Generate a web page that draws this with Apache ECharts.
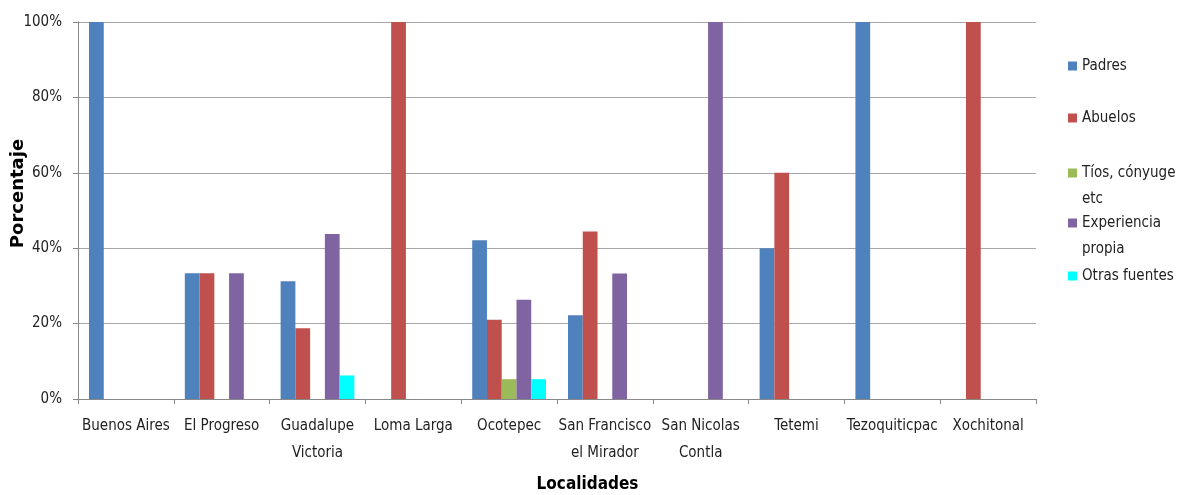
<!DOCTYPE html>
<html><head><meta charset="utf-8">
<script src="https://cdn.jsdelivr.net/npm/echarts@6/dist/echarts.min.js"></script>
<style>html,body{margin:0;padding:0;background:#fff}#c{width:1180px;height:495px}</style>
</head><body><div id="c"></div>
<script>
const categories = ['Buenos Aires','El Progreso','Guadalupe\nVictoria','Loma Larga','Ocotepec','San Francisco\nel Mirador','San Nicolas\nContla','Tetemi','Tezoquiticpac','Xochitonal'];
const seriesNames = ['Padres','Abuelos','Tíos, cónyuge etc','Experiencia propia','Otras fuentes'];
const legendLabels = ['Padres','Abuelos','\nTíos, cónyuge\netc','\nExperiencia\npropia','Otras fuentes'];
const padres      = [100, 33.33, 31.25, 0, 42.1, 22.2, 0, 40, 100, 0];
const abuelos     = [0, 33.33, 18.75, 100, 21.05, 44.4, 0, 60, 0, 100];
const tios        = [0, 0, 0, 0, 5.26, 0, 0, 0, 0, 0];
const experiencia = [0, 33.33, 43.75, 0, 26.3, 33.3, 100, 0, 0, 0];
const otras       = [0, 0, 6.25, 0, 5.26, 0, 0, 0, 0, 0];
const yTicks = [0, 20, 40, 60, 80, 100];

const values = [padres, abuelos, tios, experiencia, otras];
const colors = ['#4F81BD','#C0504D','#9BBB59','#8064A2','#00FFFF'];
const FONT = "'Liberation Sans Narrow','DejaVu Sans Condensed',sans-serif";
const legendTops = [53, 105, 134, 184, 263];

const chart = echarts.init(document.getElementById('c'));
chart.setOption({
  animation: false,
  backgroundColor: '#fff',
  color: colors,
  grid: {left: 78, right: 144, top: 22, bottom: 96, containLabel: false, outerBoundsMode: 'none'},
  legend: seriesNames.map((n, i) => ({
    data: [n],
    left: 1068,
    top: legendTops[i],
    orient: 'vertical',
    itemWidth: 9, itemHeight: 9,
    icon: 'rect',
    itemGap: 0,
    padding: 0,
    formatter: () => legendLabels[i],
    textStyle: {fontFamily: FONT, fontSize: 15, color: '#222', lineHeight: 26},
    selectedMode: false
  })),
  xAxis: {
    type: 'category',
    data: categories,
    name: 'Localidades',
    nameLocation: 'middle',
    nameGap: 77,
    nameMoveOverlap: false,
    nameTextStyle: {fontFamily: FONT, fontSize: 17, fontWeight: 'bold', color: '#000', padding: [0, 0, 0, 61]},
    axisLine: {lineStyle: {color: '#888'}},
    axisTick: {show: true, length: 5, lineStyle: {color: '#888'}},
    axisLabel: {fontFamily: FONT, fontSize: 15, color: '#222', lineHeight: 27, margin: 14, interval: 0},
    splitLine: {show: false}
  },
  yAxis: {
    type: 'value',
    min: 0, max: 100, interval: 20,
    name: 'Porcentaje',
    nameLocation: 'middle',
    nameGap: 51,
    nameMoveOverlap: false,
    nameRotate: 90,
    nameTextStyle: {fontFamily: "'DejaVu Sans','Liberation Sans',sans-serif", fontSize: 18, fontWeight: 'bold', color: '#000', padding: [0, 0, 0, 34]},
    axisLine: {show: true, lineStyle: {color: '#888'}},
    axisTick: {show: true, length: 5, inside: false, lineStyle: {color: '#888'}},
    axisLabel: {fontFamily: FONT, fontSize: 15, color: '#222', margin: 16,
      formatter: v => yTicks.includes(v) ? v + '%' : ''},
    splitLine: {lineStyle: {color: '#a6a6a6', width: 1}}
  },
  series: seriesNames.map((n, i) => ({
    name: n,
    type: 'bar',
    data: values[i],
    barGap: '0%',
    barCategoryGap: '23%',
    itemStyle: {color: colors[i]}
  }))
});
</script></body></html>
